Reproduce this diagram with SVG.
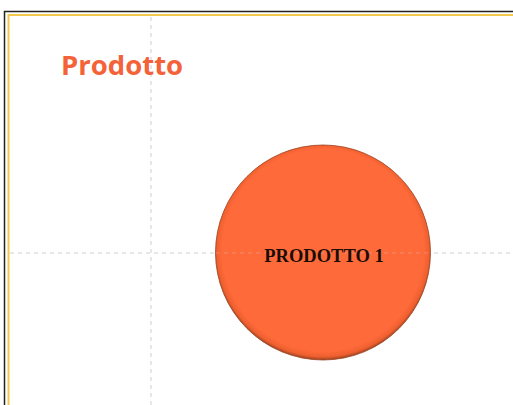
<svg xmlns="http://www.w3.org/2000/svg" width="513" height="405" viewBox="0 0 513 405">
<style>
.frame-outer{fill:none;stroke:#222;stroke-width:1.5}
.frame-inner{fill:none;stroke:#F2C94C;stroke-width:2}
.grid{stroke:#cfcfcf;stroke-width:1;stroke-dasharray:4 4;fill:none}
.title{font-family:"Open Sans","Liberation Sans",sans-serif;font-weight:bold;font-size:27.5px;fill:#F4623A}
.label{font-family:"Liberation Serif","Times New Roman",serif;font-weight:bold;font-size:18.5px;fill:#1a0d05}
</style>
<defs>
<radialGradient id="ball" cx="50%" cy="49%" r="51%">
<stop offset="0.92" stop-color="#FF6A3A"/>
<stop offset="0.97" stop-color="#EE5F2F"/>
<stop offset="1" stop-color="#9A4220"/>
</radialGradient>
</defs>
<rect width="513" height="405" fill="#ffffff"/>
<g id="frame">
<path class="frame-outer" d="M4.5,405 V11.5 H513"/>
<path class="frame-inner" d="M8.5,405 V15 H513"/>
</g>
<g id="connectors">
<line class="grid" x1="151" y1="17" x2="151" y2="405"/>
<line class="grid" x1="10" y1="253" x2="513" y2="253"/>
</g>
<g id="title">
<text class="title" x="61" y="75">Prodotto</text>
</g>
<g id="node-prodotto1">
<circle cx="323" cy="252.5" r="107.5" fill="url(#ball)" stroke="#9A4220" stroke-width="0.8"/>
<line x1="216" y1="253" x2="430" y2="253" class="grid" stroke-opacity="0.35"/>
<text class="label" x="324" y="262" text-anchor="middle">PRODOTTO 1</text>
</g>
</svg>
